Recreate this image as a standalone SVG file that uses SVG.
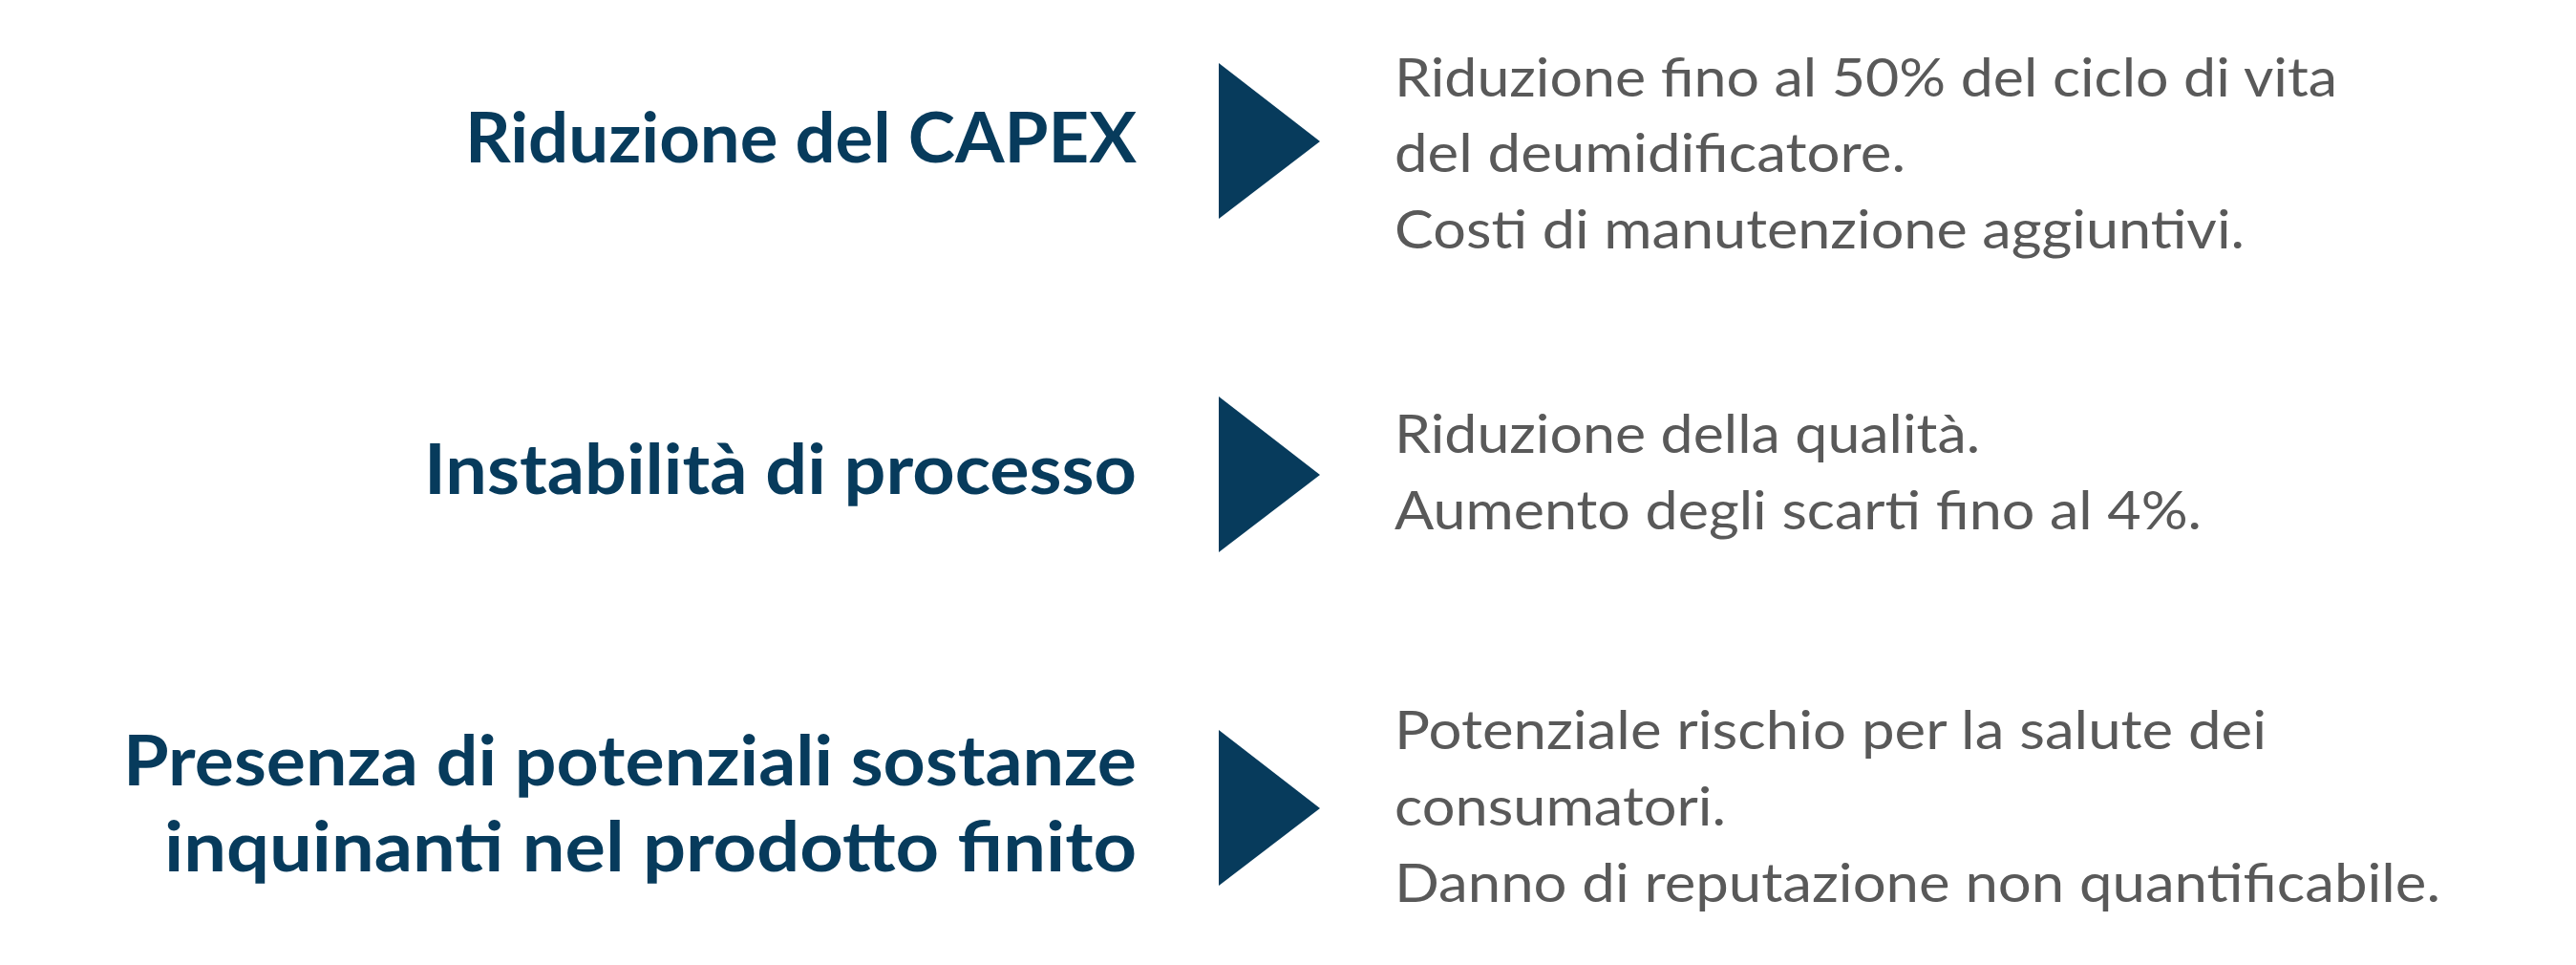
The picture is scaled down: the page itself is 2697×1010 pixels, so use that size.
<svg xmlns="http://www.w3.org/2000/svg" width="2697" height="1010" viewBox="0 0 2697 1010">
<style>
.title{font-family:Lato,"Liberation Sans",sans-serif;font-weight:700;font-size:73px;fill:#073B5C;text-anchor:end}
.body{font-family:Lato,"Liberation Sans",sans-serif;font-weight:400;font-size:56px;fill:#595959}
.tri{fill:#073B5C}
</style>
<rect width="2697" height="1010" fill="#ffffff"/>
<g id="row1">
<text class="title" x="1190" y="170" textLength="703" lengthAdjust="spacingAndGlyphs">Riduzione del CAPEX</text>
<polygon class="tri" points="1276,66 1382,148 1276,229"/>
<text class="body" x="1460" y="101" textLength="987" lengthAdjust="spacingAndGlyphs">Riduzione fino al 50% del ciclo di vita</text>
<text class="body" x="1460" y="180" textLength="535" lengthAdjust="spacingAndGlyphs">del deumidificatore.</text>
<text class="body" x="1460" y="260" textLength="890" lengthAdjust="spacingAndGlyphs">Costi di manutenzione aggiuntivi.</text>
</g>
<g id="row2">
<text class="title" x="1190" y="517" textLength="746" lengthAdjust="spacingAndGlyphs">Instabilità di processo</text>
<polygon class="tri" points="1276,415 1382,497 1276,578"/>
<text class="body" x="1460" y="474" textLength="613" lengthAdjust="spacingAndGlyphs">Riduzione della qualità.</text>
<text class="body" x="1460" y="554" textLength="845" lengthAdjust="spacingAndGlyphs">Aumento degli scarti fino al 4%.</text>
</g>
<g id="row3">
<text class="title" x="1190" y="822" textLength="1061" lengthAdjust="spacingAndGlyphs">Presenza di potenziali sostanze</text>
<text class="title" x="1190" y="912" textLength="1018" lengthAdjust="spacingAndGlyphs">inquinanti nel prodotto finito</text>
<polygon class="tri" points="1276,764 1382,846 1276,927"/>
<text class="body" x="1460" y="784" textLength="913" lengthAdjust="spacingAndGlyphs">Potenziale rischio per la salute dei</text>
<text class="body" x="1460" y="864" textLength="347" lengthAdjust="spacingAndGlyphs">consumatori.</text>
<text class="body" x="1460" y="944" textLength="1095" lengthAdjust="spacingAndGlyphs">Danno di reputazione non quantificabile.</text>
</g>
<g id="connectors"></g>
</svg>
